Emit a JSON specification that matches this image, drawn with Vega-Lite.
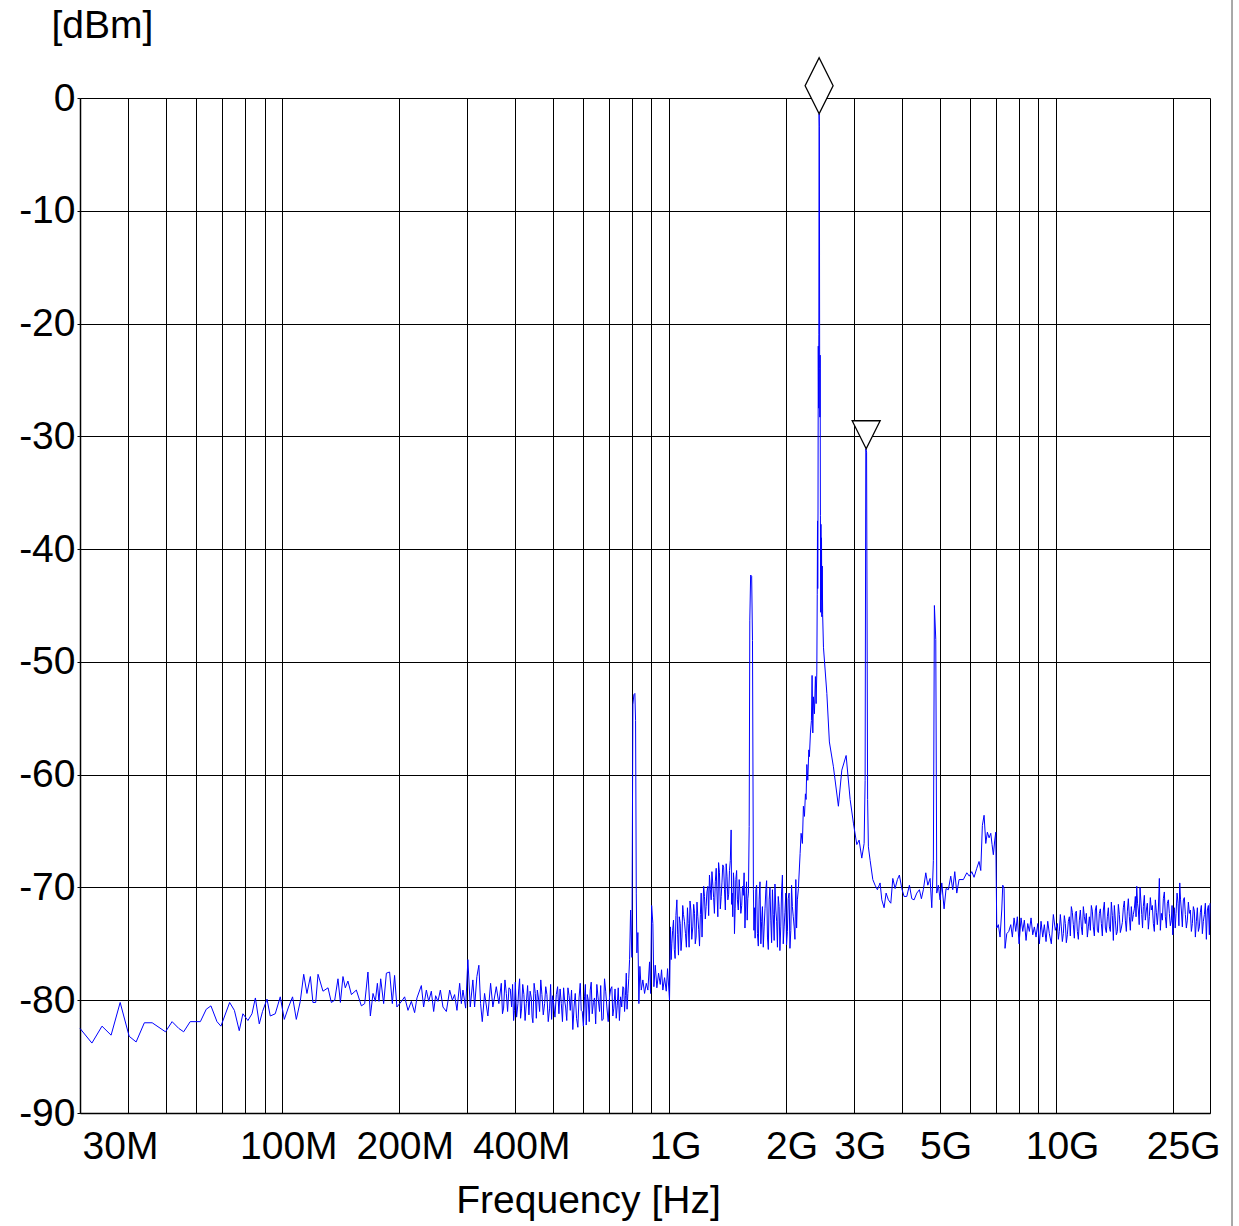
{
  "$schema": "https://vega.github.io/schema/vega-lite/v6.json",
  "width": 1130,
  "height": 1015,
  "autosize": {"type": "none"},
  "padding": {"left": 80, "top": 98, "right": 29, "bottom": 113},
  "background": "white",
  "config": {
    "view": {"stroke": null},
    "font": "Liberation Sans"
  },
  "datasets": {
    "trace": [
      {"f":30,"dBm":-82.5},{"f":32.2,"dBm":-83.8},{"f":34.2,"dBm":-82.3},{"f":36.1,"dBm":-83.1},{"f":38.1,"dBm":-80.2},
      {"f":40.2,"dBm":-83.2},{"f":41.9,"dBm":-83.7},{"f":44.0,"dBm":-82.0},{"f":46.1,"dBm":-82.0},{"f":49.9,"dBm":-82.8},
      {"f":51.9,"dBm":-81.9},{"f":54.0,"dBm":-82.5},{"f":55.6,"dBm":-82.8},{"f":57.8,"dBm":-81.9},{"f":61.4,"dBm":-81.9},
      {"f":63.6,"dBm":-80.8},{"f":65.4,"dBm":-80.5},{"f":67.8,"dBm":-81.9},{"f":69.4,"dBm":-82.3},{"f":73.1,"dBm":-80.2},
      {"f":75.2,"dBm":-80.9},{"f":77.4,"dBm":-82.7},{"f":79.1,"dBm":-81.2},{"f":81.5,"dBm":-81.8},{"f":83.5,"dBm":-81.2},
      {"f":85.2,"dBm":-79.8},{"f":87.2,"dBm":-82.1},{"f":88.9,"dBm":-81.0},{"f":91.3,"dBm":-79.9},{"f":93.1,"dBm":-81.4},
      {"f":95.9,"dBm":-81.2},{"f":98.8,"dBm":-79.7},{"f":101.2,"dBm":-81.7},{"f":103.8,"dBm":-80.6},{"f":106.3,"dBm":-79.7},
      {"f":108.7,"dBm":-81.7},{"f":111.3,"dBm":-80.1},
      {"f":113.6,"dBm":-77.7},{"f":115.8,"dBm":-79.4},{"f":118.2,"dBm":-77.9},{"f":120.0,"dBm":-80.2},{"f":122.0,"dBm":-80.2},
      {"f":123.7,"dBm":-77.7},{"f":127.4,"dBm":-79.2},{"f":131.3,"dBm":-78.9},{"f":133.9,"dBm":-80.2},{"f":136.6,"dBm":-80.0},
      {"f":139.3,"dBm":-78.1},{"f":141.3,"dBm":-80.2},{"f":143.5,"dBm":-77.9},{"f":145.5,"dBm":-78.9},{"f":147.8,"dBm":-78.3},
      {"f":150.9,"dBm":-79.5},{"f":155.4,"dBm":-79.1},{"f":160.1,"dBm":-80.5},{"f":163.3,"dBm":-80.3},{"f":166.5,"dBm":-77.5},
      {"f":168.9,"dBm":-81.4},{"f":171.6,"dBm":-79.4},{"f":174.0,"dBm":-80.1},{"f":176.1,"dBm":-78.5},{"f":177.8,"dBm":-80.1},
      {"f":179.6,"dBm":-78.1},{"f":182.8,"dBm":-80.3},{"f":185.8,"dBm":-77.6},{"f":189.4,"dBm":-77.5},{"f":192.5,"dBm":-80.3},
      {"f":195.1,"dBm":-77.8},{"f":197.8,"dBm":-80.6},{"f":201.1,"dBm":-80.3},{"f":204.3,"dBm":-80.0},{"f":207.1,"dBm":-79.7},
      {"f":211.3,"dBm":-80.9},{"f":215.6,"dBm":-80.1},{"f":219.8,"dBm":-81.1},{"f":222.9,"dBm":-79.8},{"f":228.8,"dBm":-78.7},
      {"f":231.9,"dBm":-80.6},{"f":235.7,"dBm":-79.1},{"f":239.0,"dBm":-80.1},{"f":242.8,"dBm":-79.2},{"f":246.2,"dBm":-81.0},
      {"f":249.1,"dBm":-79.6},{"f":252.6,"dBm":-80.1},{"f":256.2,"dBm":-79.1},{"f":260.2,"dBm":-80.6},{"f":265.5,"dBm":-81.0},
      {"f":270.8,"dBm":-79.1},{"f":275.2,"dBm":-80.0},{"f":278.9,"dBm":-79.5},{"f":282.8,"dBm":-80.9},{"f":287.4,"dBm":-78.5},
      {"f":290.3,"dBm":-80.3},{"f":293.1,"dBm":-79.1},{"f":297.8,"dBm":-80.7},{"f":301.8,"dBm":-76.4},{"f":306.1,"dBm":-80.6},
      {"f":310.9,"dBm":-78.2},{"f":314.1,"dBm":-80.6},{"f":318.4,"dBm":-77.9},{"f":322.2,"dBm":-76.9},{"f":325.5,"dBm":-80.3},
      {"f":328.8,"dBm":-81.9},{"f":333.3,"dBm":-79.4},{"f":339.9,"dBm":-81.4},{"f":345.5,"dBm":-78.5},{"f":350.2,"dBm":-80.6},
      {"f":357.4,"dBm":-78.8},{"f":362.9,"dBm":-80.3},
      {"f":368.2,"dBm":-78.5},{"f":370.8,"dBm":-81.2},{"f":373.3,"dBm":-80.7},{"f":376.3,"dBm":-78.2},{"f":379.4,"dBm":-79.4},
      {"f":382.3,"dBm":-81.0},{"f":385.3,"dBm":-78.9},{"f":388.4,"dBm":-79.0},{"f":391.5,"dBm":-80.6},{"f":393.8,"dBm":-78.6},
      {"f":396.2,"dBm":-81.8},{"f":398.2,"dBm":-80.9},{"f":400.2,"dBm":-78.4},{"f":403.3,"dBm":-81.5},{"f":406.5,"dBm":-80.3},
      {"f":408.5,"dBm":-79.0},{"f":410.6,"dBm":-78.1},{"f":413.0,"dBm":-81.6},{"f":415.5,"dBm":-80.7},{"f":418.3,"dBm":-78.6},
      {"f":421.2,"dBm":-79.5},{"f":424.2,"dBm":-81.8},{"f":427.3,"dBm":-80.3},{"f":430.6,"dBm":-78.7},{"f":434.0,"dBm":-81.3},
      {"f":437.1,"dBm":-79.2},{"f":440.2,"dBm":-79.8},{"f":442.3,"dBm":-81.5},{"f":444.4,"dBm":-82.0},{"f":447.6,"dBm":-78.5},
      {"f":450.9,"dBm":-79.4},{"f":453.6,"dBm":-81.6},{"f":456.3,"dBm":-79.1},{"f":459.4,"dBm":-79.8},{"f":462.5,"dBm":-81.0},
      {"f":465.7,"dBm":-78.2},{"f":468.9,"dBm":-79.5},{"f":472.7,"dBm":-81.3},{"f":476.5,"dBm":-80.3},{"f":479.7,"dBm":-78.8},
      {"f":483.0,"dBm":-79.5},{"f":486.9,"dBm":-81.9},{"f":490.9,"dBm":-80.7},{"f":493.8,"dBm":-78.6},{"f":496.7,"dBm":-81.7},
      {"f":499.7,"dBm":-79.6},{"f":502.7,"dBm":-80.3},{"f":506.7,"dBm":-81.5},{"f":510.8,"dBm":-79.5},{"f":514.8,"dBm":-78.8},
      {"f":518.8,"dBm":-81.2},{"f":522.5,"dBm":-79.0},{"f":526.3,"dBm":-80.3},{"f":529.9,"dBm":-81.9},{"f":533.5,"dBm":-78.9},
      {"f":536.7,"dBm":-80.0},{"f":539.9,"dBm":-80.6},{"f":543.6,"dBm":-81.8},{"f":547.4,"dBm":-78.9},{"f":551.2,"dBm":-79.6},
      {"f":555.1,"dBm":-80.9},{"f":559.3,"dBm":-79.1},{"f":563.6,"dBm":-82.6},{"f":567.7,"dBm":-80.6},{"f":571.8,"dBm":-79.4},
      {"f":576.2,"dBm":-81.6},{"f":580.7,"dBm":-82.4},{"f":584.8,"dBm":-79.8},{"f":589.0,"dBm":-78.5},{"f":592.5,"dBm":-80.9},
      {"f":596.1,"dBm":-81.0},{"f":600.2,"dBm":-82.3},{"f":604.3,"dBm":-79.7},{"f":607.3,"dBm":-78.6},{"f":610.4,"dBm":-82.2},
      {"f":614.1,"dBm":-79.5},{"f":617.8,"dBm":-80.0},{"f":621.4,"dBm":-81.9},{"f":625.1,"dBm":-79.1},{"f":628.8,"dBm":-78.4},
      {"f":632.6,"dBm":-81.2},{"f":637.0,"dBm":-80.2},{"f":641.3,"dBm":-79.8},{"f":645.7,"dBm":-82.1},{"f":650.2,"dBm":-78.6},
      {"f":655.5,"dBm":-79.9},{"f":660.8,"dBm":-81.0},{"f":665.3,"dBm":-78.7},{"f":669.8,"dBm":-81.8},{"f":675.2,"dBm":-81.7},
      {"f":680.7,"dBm":-78.1},{"f":685.4,"dBm":-79.2},{"f":690.1,"dBm":-80.6},{"f":695.7,"dBm":-81.9},{"f":701.3,"dBm":-79.7},
      {"f":706.1,"dBm":-79.0},{"f":710.9,"dBm":-78.8},{"f":715.1,"dBm":-81.4},{"f":719.4,"dBm":-80.7},{"f":724.6,"dBm":-79.0},
      {"f":729.8,"dBm":-81.6},{"f":734.1,"dBm":-80.5},{"f":738.5,"dBm":-78.9},{"f":743.7,"dBm":-81.8},{"f":748.9,"dBm":-79.7},
      {"f":754.0,"dBm":-80.6},{"f":759.2,"dBm":-78.8},{"f":763.0,"dBm":-78.9},{"f":766.9,"dBm":-81.0},{"f":770.8,"dBm":-79.6},
      {"f":774.7,"dBm":-77.6},{"f":778.4,"dBm":-80.8},{"f":782.2,"dBm":-79.4},{"f":786.1,"dBm":-78.1},{"f":790.1,"dBm":-76.4},
      {"f":794.8,"dBm":-72.0},{"f":801.0,"dBm":-76.2},
      {"f":805.8,"dBm":-53.8},{"f":810.6,"dBm":-52.9},{"f":815.4,"dBm":-52.8},{"f":818.8,"dBm":-55.2},{"f":822.2,"dBm":-70.5},
      {"f":825.1,"dBm":-75.8},{"f":830.1,"dBm":-74.0},{"f":835.0,"dBm":-80.3},{"f":840.0,"dBm":-77.0},{"f":847.0,"dBm":-79.1},
      {"f":855.1,"dBm":-78.2},{"f":863.8,"dBm":-79.4},{"f":872.6,"dBm":-78.5},{"f":881.0,"dBm":-79.1},{"f":889.8,"dBm":-76.6},
      {"f":895.2,"dBm":-79.4},{"f":900.9,"dBm":-71.6},{"f":907.5,"dBm":-73.2},{"f":913.0,"dBm":-78.8},{"f":920.6,"dBm":-76.9},
      {"f":929.3,"dBm":-78.9},{"f":938.8,"dBm":-77.6},{"f":948.3,"dBm":-78.6},{"f":955.7,"dBm":-77.3},{"f":963.1,"dBm":-79.1},
      {"f":972.9,"dBm":-78.0},{"f":982.8,"dBm":-79.2},{"f":990.4,"dBm":-77.2},{"f":1002,"dBm":-80.0},
      {"f":1008,"dBm":-73.5},{"f":1012,"dBm":-76.4},{"f":1016,"dBm":-75.0},{"f":1021,"dBm":-73.8},{"f":1026,"dBm":-72.9},
      {"f":1031,"dBm":-75.5},{"f":1036,"dBm":-76.3},{"f":1041,"dBm":-72.5},{"f":1047,"dBm":-71.1},{"f":1052,"dBm":-74.2},
      {"f":1057,"dBm":-76.0},{"f":1062,"dBm":-72.6},{"f":1068,"dBm":-73.2},{"f":1073,"dBm":-75.6},{"f":1079,"dBm":-74.4},
      {"f":1084,"dBm":-71.6},{"f":1089,"dBm":-72.4},{"f":1095,"dBm":-73.0},{"f":1102,"dBm":-74.1},{"f":1108,"dBm":-75.3},
      {"f":1115,"dBm":-71.8},{"f":1120,"dBm":-73.2},{"f":1126,"dBm":-75.3},{"f":1132,"dBm":-71.2},{"f":1138,"dBm":-72.0},
      {"f":1144,"dBm":-74.6},{"f":1151,"dBm":-73.5},{"f":1157,"dBm":-71.5},{"f":1163,"dBm":-72.3},{"f":1168,"dBm":-75.0},
      {"f":1174,"dBm":-74.4},{"f":1180,"dBm":-71.3},{"f":1186,"dBm":-72.6},{"f":1192,"dBm":-73.7},{"f":1198,"dBm":-75.2},
      {"f":1204,"dBm":-72.4},{"f":1210,"dBm":-70.5},{"f":1216,"dBm":-74.4},{"f":1222,"dBm":-72.0},{"f":1228,"dBm":-69.9},
      {"f":1234,"dBm":-70.8},{"f":1240,"dBm":-72.8},{"f":1246,"dBm":-71.7},{"f":1252,"dBm":-70.4},{"f":1259,"dBm":-69.9},
      {"f":1265,"dBm":-72.5},{"f":1271,"dBm":-68.9},{"f":1278,"dBm":-70.2},{"f":1284,"dBm":-71.1},{"f":1290,"dBm":-68.6},
      {"f":1297,"dBm":-69.8},{"f":1303,"dBm":-70.9},{"f":1309,"dBm":-72.3},{"f":1316,"dBm":-69.5},{"f":1323,"dBm":-68.3},
      {"f":1329,"dBm":-70.4},{"f":1336,"dBm":-72.6},{"f":1342,"dBm":-67.8},{"f":1349,"dBm":-68.7},{"f":1356,"dBm":-71.9},
      {"f":1363,"dBm":-70.8},{"f":1369,"dBm":-69.6},{"f":1376,"dBm":-68.0},{"f":1383,"dBm":-68.2},{"f":1390,"dBm":-70.2},
      {"f":1397,"dBm":-72.0},{"f":1404,"dBm":-67.9},{"f":1411,"dBm":-69.0},{"f":1418,"dBm":-71.1},{"f":1425,"dBm":-70.6},
      {"f":1432,"dBm":-68.5},{"f":1439,"dBm":-67.6},{"f":1446,"dBm":-64.9},{"f":1450,"dBm":-71.5},{"f":1455,"dBm":-70.5},
      {"f":1460,"dBm":-72.6},{"f":1466,"dBm":-68.7},{"f":1470,"dBm":-69.4},{"f":1475,"dBm":-74.1},{"f":1481,"dBm":-71.9},
      {"f":1487,"dBm":-69.3},{"f":1494,"dBm":-68.5},{"f":1501,"dBm":-71.1},{"f":1509,"dBm":-72.0},{"f":1517,"dBm":-69.3},
      {"f":1524,"dBm":-70.4},{"f":1532,"dBm":-72.3},{"f":1540,"dBm":-71.6},{"f":1547,"dBm":-69.9},{"f":1555,"dBm":-70.7},
      {"f":1562,"dBm":-68.7},{"f":1570,"dBm":-73.6},{"f":1578,"dBm":-71.1},{"f":1585,"dBm":-69.5},{"f":1591,"dBm":-72.9},
      {"f":1597,"dBm":-71.0},{"f":1603,"dBm":-70.5},{"f":1610,"dBm":-64.6},
      {"f":1616,"dBm":-46.3},{"f":1624,"dBm":-42.3},{"f":1634,"dBm":-42.4},{"f":1642,"dBm":-48.1},{"f":1651,"dBm":-70.2},
      {"f":1656,"dBm":-73.8},{"f":1661,"dBm":-71.8},{"f":1668,"dBm":-74.5},{"f":1675,"dBm":-70.2},{"f":1683,"dBm":-69.8},
      {"f":1691,"dBm":-74.1},{"f":1700,"dBm":-75.2},{"f":1708,"dBm":-71.1},{"f":1717,"dBm":-69.5},{"f":1726,"dBm":-75.0},
      {"f":1734,"dBm":-73.0},{"f":1742,"dBm":-71.7},{"f":1751,"dBm":-75.3},{"f":1760,"dBm":-73.5},{"f":1769,"dBm":-71.9},
      {"f":1778,"dBm":-70.2},{"f":1786,"dBm":-69.4},{"f":1795,"dBm":-74.4},{"f":1804,"dBm":-75.5},{"f":1813,"dBm":-71.1},
      {"f":1822,"dBm":-70.0},{"f":1831,"dBm":-72.9},{"f":1840,"dBm":-74.9},{"f":1849,"dBm":-70.2},{"f":1858,"dBm":-72.4},
      {"f":1868,"dBm":-74.7},{"f":1877,"dBm":-69.7},{"f":1887,"dBm":-72.0},{"f":1896,"dBm":-73.0},{"f":1905,"dBm":-75.3},
      {"f":1914,"dBm":-70.8},{"f":1924,"dBm":-71.7},{"f":1933,"dBm":-75.6},{"f":1943,"dBm":-73.5},{"f":1952,"dBm":-70.4},
      {"f":1962,"dBm":-68.9},{"f":1972,"dBm":-75.0},{"f":1982,"dBm":-73.5},{"f":1992,"dBm":-72.2},{"f":2002,"dBm":-70.5},
      {"f":2011,"dBm":-75.1},{"f":2021,"dBm":-73.9},{"f":2031,"dBm":-71.0},{"f":2042,"dBm":-70.5},{"f":2052,"dBm":-75.4},
      {"f":2063,"dBm":-73.8},{"f":2072,"dBm":-69.8},{"f":2082,"dBm":-71.7},{"f":2093,"dBm":-72.6},{"f":2104,"dBm":-73.5},
      {"f":2114,"dBm":-74.6},{"f":2125,"dBm":-69.3},{"f":2135,"dBm":-73.6},{"f":2145,"dBm":-71.1},
      {"f":2158,"dBm":-70.1},{"f":2180,"dBm":-67.0},{"f":2193,"dBm":-65.2},
      {"f":2210,"dBm":-66.1},{"f":2223,"dBm":-62.8},{"f":2237,"dBm":-63.7},{"f":2250,"dBm":-61.7},{"f":2259,"dBm":-62.2},
      {"f":2269,"dBm":-59.1},{"f":2282,"dBm":-60.5},{"f":2296,"dBm":-57.8},{"f":2304,"dBm":-58.4},{"f":2318,"dBm":-56.3},
      {"f":2332,"dBm":-55.2},{"f":2341,"dBm":-51.2},{"f":2351,"dBm":-56.3},{"f":2360,"dBm":-53.1},{"f":2374,"dBm":-54.6},
      {"f":2388,"dBm":-51.3},{"f":2398,"dBm":-53.7},{"f":2408,"dBm":-50.9},{"f":2414,"dBm":-44.0},{"f":2418,"dBm":-37.5},
      {"f":2421,"dBm":-43.5},{"f":2425,"dBm":-36.8},{"f":2429,"dBm":-22.0},{"f":2433,"dBm":-27.5},{"f":2437,"dBm":-21.0},
      {"f":2441,"dBm":-1.4},{"f":2445,"dBm":-2.5},{"f":2449,"dBm":-24.0},{"f":2452,"dBm":-28.3},{"f":2456,"dBm":-22.8},
      {"f":2460,"dBm":-37.0},{"f":2464,"dBm":-45.6},{"f":2468,"dBm":-37.8},{"f":2472,"dBm":-44.5},{"f":2476,"dBm":-39.0},
      {"f":2481,"dBm":-46.0},{"f":2487,"dBm":-41.5},{"f":2493,"dBm":-45.8},{"f":2505,"dBm":-48.7},{"f":2556,"dBm":-52.8},
      {"f":2595,"dBm":-57.1},{"f":2658,"dBm":-59.3},{"f":2738,"dBm":-62.8},{"f":2794,"dBm":-59.6},{"f":2867,"dBm":-58.3},
      {"f":2936,"dBm":-62.2},{"f":2994,"dBm":-64.3},{"f":3055,"dBm":-66.2},{"f":3097,"dBm":-65.8},{"f":3147,"dBm":-67.4},
      {"f":3191,"dBm":-66.1},{"f":3210,"dBm":-60.5},{"f":3223,"dBm":-31.1},{"f":3238,"dBm":-31.4},{"f":3258,"dBm":-62.2},
      {"f":3273,"dBm":-66.4},{"f":3307,"dBm":-67.6},{"f":3360,"dBm":-69.3},{"f":3406,"dBm":-69.8},{"f":3453,"dBm":-70.2},
      {"f":3509,"dBm":-69.6},{"f":3545,"dBm":-71.1},{"f":3594,"dBm":-71.8},{"f":3637,"dBm":-70.5},{"f":3687,"dBm":-71.1},
      {"f":3740,"dBm":-71.4},{"f":3785,"dBm":-69.2},{"f":3837,"dBm":-70.1},{"f":3890,"dBm":-69.3},{"f":3936,"dBm":-68.9},
      {"f":3993,"dBm":-70.1},{"f":4048,"dBm":-70.8},{"f":4113,"dBm":-70.8},{"f":4178,"dBm":-69.8},{"f":4238,"dBm":-71.0},
      {"f":4296,"dBm":-71.1},{"f":4366,"dBm":-70.5},{"f":4434,"dBm":-70.2},{"f":4487,"dBm":-71.0},{"f":4540,"dBm":-70.2},
      {"f":4606,"dBm":-68.7},{"f":4661,"dBm":-69.8},{"f":4725,"dBm":-69.2},{"f":4773,"dBm":-71.8},{"f":4819,"dBm":-67.6},
      {"f":4848,"dBm":-45.0},{"f":4888,"dBm":-48.0},{"f":4917,"dBm":-70.5},{"f":4964,"dBm":-69.8},{"f":5015,"dBm":-71.1},
      {"f":5066,"dBm":-69.6},{"f":5136,"dBm":-71.9},{"f":5197,"dBm":-70.1},{"f":5269,"dBm":-70.2},{"f":5344,"dBm":-69.0},
      {"f":5408,"dBm":-70.2},{"f":5473,"dBm":-68.6},{"f":5539,"dBm":-70.5},{"f":5615,"dBm":-69.3},
      {"f":5761,"dBm":-69.3},{"f":5879,"dBm":-68.7},{"f":5970,"dBm":-69.0},{"f":6056,"dBm":-68.6},{"f":6139,"dBm":-69.1},
      {"f":6239,"dBm":-68.3},{"f":6324,"dBm":-67.7},{"f":6389,"dBm":-68.5},{"f":6450,"dBm":-64.5},{"f":6516,"dBm":-63.6},
      {"f":6582,"dBm":-66.1},{"f":6645,"dBm":-65.1},{"f":6713,"dBm":-65.6},{"f":6781,"dBm":-65.2},{"f":6833,"dBm":-66.2},
      {"f":6886,"dBm":-67.1},{"f":6944,"dBm":-65.8},{"f":6985,"dBm":-65.1},{"f":7027,"dBm":-73.6},{"f":7094,"dBm":-73.3},
      {"f":7166,"dBm":-74.4},{"f":7239,"dBm":-72.0},{"f":7282,"dBm":-69.8},{"f":7339,"dBm":-70.1},{"f":7382,"dBm":-75.4},
      {"f":7458,"dBm":-74.1},{"f":7547,"dBm":-73.9},{"f":7638,"dBm":-73.3},{"f":7711,"dBm":-74.4},{"f":7789,"dBm":-72.7},
      {"f":7868,"dBm":-73.9},{"f":7943,"dBm":-72.6},{"f":8024,"dBm":-75.0},{"f":8120,"dBm":-72.7},{"f":8203,"dBm":-73.9},
      {"f":8281,"dBm":-72.9},{"f":8365,"dBm":-74.7},{"f":8450,"dBm":-73.2},{"f":8531,"dBm":-73.9},{"f":8618,"dBm":-72.7},
      {"f":8705,"dBm":-74.2},{"f":8789,"dBm":-73.5},{"f":8878,"dBm":-74.4},{"f":8968,"dBm":-73.2},{"f":9054,"dBm":-75.0},
      {"f":9146,"dBm":-73.0},{"f":9239,"dBm":-74.4},{"f":9328,"dBm":-73.3},{"f":9422,"dBm":-74.8},{"f":9518,"dBm":-73.0},
      {"f":9609,"dBm":-74.1},{"f":9724,"dBm":-75.0},{"f":9841,"dBm":-72.4},{"f":9958,"dBm":-73.8},
      {"f":10078,"dBm":-73.2},{"f":10138,"dBm":-74.6},{"f":10198,"dBm":-73.9},{"f":10259,"dBm":-72.4},{"f":10320,"dBm":-73.5},
      {"f":10382,"dBm":-74.8},{"f":10444,"dBm":-74.1},{"f":10506,"dBm":-72.5},{"f":10569,"dBm":-73.2},{"f":10632,"dBm":-74.9},
      {"f":10696,"dBm":-74.2},{"f":10760,"dBm":-73.0},{"f":10824,"dBm":-72.6},{"f":10888,"dBm":-74.3},{"f":10953,"dBm":-71.7},
      {"f":11018,"dBm":-72.2},{"f":11084,"dBm":-73.3},{"f":11150,"dBm":-74.5},{"f":11217,"dBm":-72.3},{"f":11284,"dBm":-72.1},
      {"f":11352,"dBm":-73.9},{"f":11420,"dBm":-74.6},{"f":11488,"dBm":-72.9},{"f":11556,"dBm":-72.0},{"f":11625,"dBm":-73.5},
      {"f":11695,"dBm":-74.2},{"f":11765,"dBm":-71.7},{"f":11835,"dBm":-72.6},{"f":11905,"dBm":-73.2},{"f":11976,"dBm":-72.3},
      {"f":12048,"dBm":-74.4},{"f":12120,"dBm":-73.5},{"f":12192,"dBm":-72.6},{"f":12265,"dBm":-73.8},{"f":12338,"dBm":-71.6},
      {"f":12412,"dBm":-72.1},{"f":12486,"dBm":-73.5},{"f":12561,"dBm":-74.3},{"f":12636,"dBm":-72.0},{"f":12711,"dBm":-71.6},
      {"f":12787,"dBm":-73.8},{"f":12863,"dBm":-74.0},{"f":12940,"dBm":-72.3},{"f":13017,"dBm":-71.9},{"f":13095,"dBm":-73.2},
      {"f":13173,"dBm":-74.3},{"f":13252,"dBm":-72.0},{"f":13331,"dBm":-71.3},{"f":13410,"dBm":-73.6},{"f":13490,"dBm":-74.0},
      {"f":13571,"dBm":-72.6},{"f":13652,"dBm":-71.8},{"f":13733,"dBm":-73.5},{"f":13815,"dBm":-73.9},{"f":13898,"dBm":-71.3},
      {"f":13981,"dBm":-72.5},{"f":14064,"dBm":-74.7},{"f":14148,"dBm":-71.6},{"f":14233,"dBm":-72.9},{"f":14318,"dBm":-74.2},
      {"f":14403,"dBm":-73.9},{"f":14489,"dBm":-71.5},{"f":14575,"dBm":-72.4},{"f":14662,"dBm":-74.0},{"f":14750,"dBm":-73.6},
      {"f":14838,"dBm":-73.1},{"f":14926,"dBm":-71.8},{"f":15015,"dBm":-71.2},{"f":15105,"dBm":-72.9},{"f":15195,"dBm":-73.9},
      {"f":15286,"dBm":-72.1},{"f":15377,"dBm":-71.0},{"f":15469,"dBm":-72.6},{"f":15561,"dBm":-73.8},{"f":15654,"dBm":-71.7},
      {"f":15748,"dBm":-73.0},{"f":15842,"dBm":-72.4},{"f":15936,"dBm":-71.9},{"f":16031,"dBm":-70.8},{"f":16098,"dBm":-72.6},
      {"f":16165,"dBm":-69.9},{"f":16242,"dBm":-71.4},{"f":16320,"dBm":-72.0},{"f":16403,"dBm":-73.3},{"f":16486,"dBm":-70.0},
      {"f":16569,"dBm":-71.2},{"f":16653,"dBm":-72.4},{"f":16733,"dBm":-73.6},{"f":16813,"dBm":-71.7},{"f":16913,"dBm":-70.7},
      {"f":17014,"dBm":-72.9},{"f":17116,"dBm":-72.0},{"f":17218,"dBm":-71.4},{"f":17321,"dBm":-73.7},{"f":17424,"dBm":-72.6},
      {"f":17528,"dBm":-70.9},{"f":17633,"dBm":-72.0},{"f":17738,"dBm":-71.6},{"f":17844,"dBm":-73.2},{"f":17951,"dBm":-73.9},
      {"f":18058,"dBm":-71.1},{"f":18166,"dBm":-72.2},{"f":18274,"dBm":-73.3},{"f":18383,"dBm":-72.0},{"f":18493,"dBm":-69.2},
      {"f":18604,"dBm":-73.8},{"f":18715,"dBm":-72.3},{"f":18827,"dBm":-72.9},{"f":18939,"dBm":-71.0},{"f":19052,"dBm":-70.4},
      {"f":19166,"dBm":-72.6},{"f":19281,"dBm":-73.6},{"f":19396,"dBm":-71.4},{"f":19512,"dBm":-71.1},{"f":19628,"dBm":-72.3},
      {"f":19745,"dBm":-73.4},{"f":19863,"dBm":-72.9},{"f":19946,"dBm":-71.6},{"f":20029,"dBm":-74.2},{"f":20125,"dBm":-72.8},
      {"f":20221,"dBm":-71.8},{"f":20324,"dBm":-73.6},{"f":20427,"dBm":-72.3},{"f":20549,"dBm":-70.5},{"f":20672,"dBm":-71.4},
      {"f":20776,"dBm":-73.4},{"f":20881,"dBm":-69.6},{"f":20981,"dBm":-71.1},{"f":21081,"dBm":-72.0},{"f":21207,"dBm":-73.5},
      {"f":21333,"dBm":-71.1},{"f":21461,"dBm":-70.9},{"f":21589,"dBm":-72.4},{"f":21718,"dBm":-73.6},{"f":21848,"dBm":-72.9},
      {"f":21979,"dBm":-71.3},{"f":22110,"dBm":-72.3},{"f":22242,"dBm":-72.0},{"f":22375,"dBm":-73.9},{"f":22509,"dBm":-73.2},
      {"f":22643,"dBm":-71.7},{"f":22778,"dBm":-72.1},{"f":22914,"dBm":-74.4},{"f":23051,"dBm":-73.0},{"f":23189,"dBm":-71.8},
      {"f":23328,"dBm":-73.9},{"f":23467,"dBm":-73.5},{"f":23607,"dBm":-72.2},{"f":23748,"dBm":-71.6},{"f":23890,"dBm":-74.1},
      {"f":24033,"dBm":-73.0},{"f":24177,"dBm":-72.4},{"f":24321,"dBm":-71.4},{"f":24466,"dBm":-74.6},{"f":24612,"dBm":-72.0},
      {"f":24760,"dBm":-71.6},{"f":24907,"dBm":-74.2},{"f":25000,"dBm":-71.4}
    ],
    "markers": [
      {"f": 2441, "dBm": -1.4, "marker": "diamond"},
      {"f": 3230, "dBm": -31.1, "marker": "triangle"}
    ],
    "edge": [
      {"f": 28500, "top": 9, "bottom": -101}
    ]
  },
  "layer": [
    {
      "data": {"name": "trace"},
      "mark": {"type": "line", "color": "#0000ff", "strokeWidth": 1},
      "encoding": {
        "x": {
          "field": "f",
          "type": "quantitative",
          "scale": {"type": "log", "domain": [30, 25000], "nice": false, "zero": false},
          "axis": {
            "values": [30, 40, 50, 60, 70, 80, 90, 100, 200, 300, 400, 500, 600, 700, 800, 900, 1000, 2000, 3000, 4000, 5000, 6000, 7000, 8000, 9000, 10000, 20000, 25000],
            "labelExpr": "indexof([30, 100, 200, 400, 1000, 2000, 3000, 5000, 10000, 25000], datum.value) >= 0 ? (datum.value >= 1000 ? (datum.value / 1000) + 'G' : datum.value + 'M') : ''",
            "grid": true,
            "gridColor": "#000000",
            "gridWidth": 1,
            "gridOpacity": 1,
            "domain": true,
            "domainColor": "#000000",
            "domainWidth": 1.5,
            "ticks": false,
            "labelFont": "Liberation Sans",
            "labelFontSize": 39,
            "labelColor": "#000000",
            "labelPadding": 14,
            "labelFlush": true,
            "labelOffset": 6,
            "labelFlushOffset": 4,
            "labelOverlap": false,
            "title": "Frequency [Hz]",
            "titleFont": "Liberation Sans",
            "titleFontSize": 39,
            "titleFontWeight": "normal",
            "titleColor": "#000000",
            "titleX": 508,
            "titleY": 99,
            "titleAlign": "center",
            "titleBaseline": "alphabetic"
          }
        },
        "y": {
          "field": "dBm",
          "type": "quantitative",
          "scale": {"domain": [-90, 0], "nice": false},
          "axis": {
            "values": [-90, -80, -70, -60, -50, -40, -30, -20, -10, 0],
            "labelExpr": "datum.value + ''",
            "grid": true,
            "gridColor": "#000000",
            "gridWidth": 1,
            "gridOpacity": 1,
            "domain": true,
            "domainColor": "#000000",
            "domainWidth": 1.5,
            "ticks": true,
            "tickSize": 3,
            "tickColor": "#000000",
            "labelFont": "Liberation Sans",
            "labelFontSize": 39,
            "labelColor": "#000000",
            "labelPadding": 2,
            "labelOverlap": false,
            "title": "[dBm]",
            "titleFont": "Liberation Sans",
            "titleFontSize": 39,
            "titleFontWeight": "normal",
            "titleColor": "#000000",
            "titleAngle": 0,
            "titleX": -29,
            "titleY": -61,
            "titleAlign": "left",
            "titleBaseline": "alphabetic"
          }
        }
      }
    },
    {
      "data": {"name": "markers"},
      "mark": {"type": "point", "filled": true, "fill": "#ffffff", "stroke": "#000000", "strokeWidth": 1.3, "opacity": 1, "size": 3136},
      "encoding": {
        "x": {"field": "f", "type": "quantitative"},
        "y": {"field": "dBm", "type": "quantitative"},
        "shape": {
          "field": "marker",
          "type": "nominal",
          "scale": {
            "domain": ["diamond", "triangle"],
            "range": ["M0,0L-0.5,-1L0,-2L0.5,-1Z", "M0,0L-0.5,-1L0.5,-1Z"]
          },
          "legend": null
        }
      }
    },
    {
      "data": {"name": "edge"},
      "mark": {"type": "rule", "color": "#8c8c8c", "strokeWidth": 1.5, "clip": false},
      "encoding": {
        "x": {"field": "f", "type": "quantitative"},
        "y": {"field": "top", "type": "quantitative"},
        "y2": {"field": "bottom"}
      }
    }
  ]
}
